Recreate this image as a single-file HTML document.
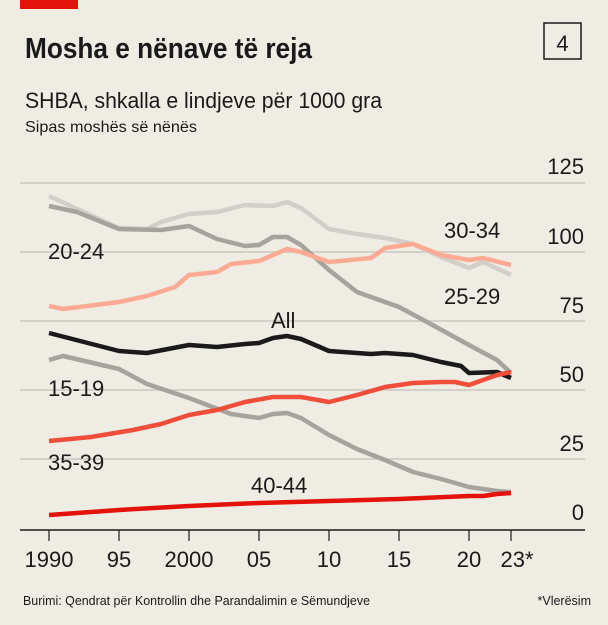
<!DOCTYPE html><html><head><style>
body{margin:0;background:#efece4;}
svg{display:block}
text{font-family:"Liberation Sans Narrow","Liberation Sans",sans-serif;fill:#1a1a1a}
</style></head><body>
<svg width="608" height="625" viewBox="0 0 608 625">
<rect width="608" height="625" fill="#efece4"/>
<rect x="20" y="0" width="58" height="9" fill="#e3120b"/>
<text x="25" y="58" font-size="29" font-weight="bold" textLength="287" lengthAdjust="spacingAndGlyphs">Mosha e nënave të reja</text>
<rect x="544" y="23" width="37" height="36" fill="none" stroke="#1a1a1a" stroke-width="1.5"/>
<text x="562.5" y="51" font-size="22" text-anchor="middle">4</text>
<text x="25" y="108" font-size="22" textLength="357" lengthAdjust="spacingAndGlyphs">SHBA, shkalla e lindjeve për 1000 gra</text>
<text x="25" y="132" font-size="16" textLength="172" lengthAdjust="spacingAndGlyphs">Sipas moshës së nënës</text>
<g stroke="#d2d0c9" stroke-width="2">
<line x1="20" y1="183" x2="585" y2="183"/><line x1="20" y1="252" x2="585" y2="252"/><line x1="20" y1="321" x2="585" y2="321"/><line x1="20" y1="390" x2="585" y2="390"/><line x1="20" y1="459" x2="585" y2="459"/></g>
<g font-size="22" text-anchor="end">
<text x="584" y="174">125</text><text x="584" y="244">100</text><text x="584" y="313">75</text><text x="584" y="382">50</text><text x="584" y="451">25</text><text x="584" y="520">0</text></g>
<line x1="20" y1="530" x2="585" y2="530" stroke="#1a1a1a" stroke-width="1.5"/>
<g stroke="#1a1a1a" stroke-width="1.2">
<line x1="49" y1="530" x2="49" y2="541"/><line x1="119" y1="530" x2="119" y2="541"/><line x1="189" y1="530" x2="189" y2="541"/><line x1="259" y1="530" x2="259" y2="541"/><line x1="329" y1="530" x2="329" y2="541"/><line x1="399" y1="530" x2="399" y2="541"/><line x1="469" y1="530" x2="469" y2="541"/><line x1="511" y1="530" x2="511" y2="541"/></g>
<g font-size="22" text-anchor="middle">
<text x="49" y="567">1990</text><text x="119" y="567">95</text><text x="189" y="567">2000</text><text x="259" y="567">05</text><text x="329" y="567">10</text><text x="399" y="567">15</text><text x="469" y="567">20</text><text x="517" y="567">23*</text></g>
<g fill="none" stroke-width="4.5" stroke-linejoin="round" stroke-linecap="butt">
<polyline stroke="#d1cfc8" points="49,196 119,228 147,229 161,222 189,214 217,212 245,205 273,206 287,202 301,208 329,229 357,234 385,238 413,244 441,257 469,268 483,262 511,275"/>
<polyline stroke="#a6a39d" points="49,206 77,212 119,229 161,230 189,226 217,239 245,246 259,245 273,237 287,237 301,245 329,270 357,292 399,307 427,322 469,345 497,360 511,373"/>
<polyline stroke="#fcaa93" points="49,306 63,309 119,302 147,296 175,287 189,275 217,272 231,264 259,261 287,249 301,252 329,262 371,258 385,248 413,244 441,255 469,260 483,258 511,265"/>
<polyline stroke="#a6a39d" points="49,360 63,356 119,369 147,384 189,398 231,414 259,418 273,414 287,413 301,418 329,435 357,449 385,460 413,472 441,479 469,487 497,491 511,492"/>
<polyline stroke="#1a1a1a" points="49,333 119,351 147,353 189,345 217,347 245,344 259,343 273,338 287,336 301,339 329,351 371,354 385,353 413,355 441,362 461,366 469,373 497,372 511,378"/>
<polyline stroke="#f04e3a" points="49,441 91,437 133,430 161,424 189,415 217,410 245,402 273,397 301,397 329,402 357,395 385,387 413,383 441,382 455,382 469,385 497,375 511,372"/>
<polyline stroke="#e3120b" points="49,515 119,510 189,506 259,503 329,501 399,499 469,496 483,496 497,494 511,493"/>
</g>
<g font-size="22">
<text x="48" y="259">20-24</text>
<text x="444" y="238">30-34</text>
<text x="444" y="304">25-29</text>
<text x="271" y="328">All</text>
<text x="48" y="396">15-19</text>
<text x="48" y="470">35-39</text>
<text x="251" y="493">40-44</text>
</g>
<text x="23" y="605" font-size="12.5" textLength="347" lengthAdjust="spacingAndGlyphs">Burimi: Qendrat për Kontrollin dhe Parandalimin e Sëmundjeve</text>
<text x="591" y="605" font-size="12.5" text-anchor="end">*Vlerësim</text>
</svg>
</body></html>
